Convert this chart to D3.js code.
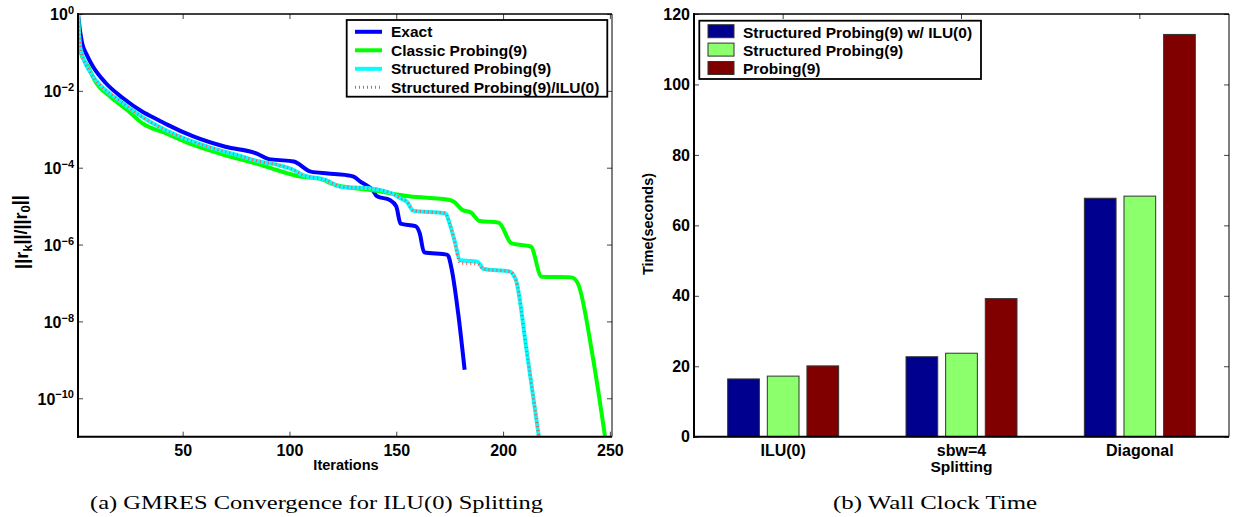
<!DOCTYPE html>
<html>
<head>
<meta charset="utf-8">
<script src="https://cdn.jsdelivr.net/npm/d3@7"></script>
<style>
  body { margin: 0; background: #fff; }
  svg { display: block; font-family: "Liberation Sans", Arial, sans-serif; font-weight: bold; }
</style>
</head>
<body>
<svg id="chart"></svg>
<script>
// (a) residual history ||r_k||/||r_0|| vs iteration
const exactIter = [1, 2, 3, 5, 8, 14, 22, 31, 39, 43, 55, 70, 85, 90, 94, 102, 110, 118, 126, 130, 133, 136, 139, 141, 147, 150, 152, 159, 161, 163, 174, 176, 179, 182];
const exactRes = [1, 3.5e-1, 1.7e-1, 8.9e-2, 4.3e-2, 1.6e-2, 6.5e-3, 2.9e-3, 1.7e-3, 1.3e-3, 6.5e-4, 3.5e-4, 2.3e-4, 1.7e-4, 1.6e-4, 1.45e-4, 7.9e-5, 7.1e-5, 6.5e-5, 5.9e-5, 4.4e-5, 3.5e-5, 2.6e-5, 1.8e-5, 1.45e-5, 9.8e-6, 3.5e-6, 3.0e-6, 1.95e-6, 6.3e-7, 5.4e-7, 2.2e-7, 1.6e-8, 5.5e-10];

const classicIter = [1, 2, 6, 9, 16, 24, 31, 42, 55, 70, 84, 94, 105, 114, 122, 139, 156, 175, 177, 181, 185, 189, 198, 204, 213, 218, 232, 235, 242, 248];
const classicRes = [1, 1.1e-1, 4.0e-2, 1.8e-2, 7.1e-3, 3.2e-3, 1.45e-3, 7.9e-4, 3.9e-4, 2.1e-4, 1.3e-4, 8.7e-5, 5.9e-5, 5.2e-5, 3.5e-5, 2.6e-5, 1.8e-5, 1.45e-5, 1.3e-5, 7.9e-6, 6.8e-6, 4.1e-6, 3.7e-6, 1.07e-6, 8.9e-7, 1.45e-7, 1.4e-7, 9.8e-8, 1.2e-9, 8e-12];

const structIter = [1, 2, 7, 12, 20, 31, 47, 62, 78, 86, 94, 102, 106, 117, 124, 138, 149, 152, 155, 158, 173, 175, 177, 180, 188, 191, 203, 206, 211, 217];
const structRes = [1, 1.4e-1, 2.9e-2, 1.3e-2, 5.8e-3, 2.1e-3, 7.1e-4, 3.5e-4, 1.95e-4, 1.45e-4, 1.2e-4, 8.7e-5, 6.5e-5, 4.8e-5, 3.2e-5, 2.9e-5, 2.0e-5, 1.6e-5, 1.3e-5, 7.6e-6, 6.5e-6, 3.5e-6, 1.45e-6, 3.9e-7, 3.6e-7, 2.3e-7, 2.0e-7, 1.2e-7, 1.8e-9, 8e-12];

const structIluIter = [1, 2, 7, 12, 20, 31, 47, 62, 78, 86, 94, 102, 106, 117, 124, 138, 149, 152, 155, 158, 173, 175, 177, 180, 188, 191, 203, 206, 211, 217];
const structIluRes = [1, 1.4e-1, 2.9e-2, 1.3e-2, 5.8e-3, 2.1e-3, 7.1e-4, 3.5e-4, 1.95e-4, 1.45e-4, 1.2e-4, 8.7e-5, 6.5e-5, 4.8e-5, 3.2e-5, 2.9e-5, 2.0e-5, 1.6e-5, 1.3e-5, 7.6e-6, 6.5e-6, 3.5e-6, 1.45e-6, 3.3e-7, 3.1e-7, 2.3e-7, 2.0e-7, 1.2e-7, 1.8e-9, 8e-12];

const lineNames = ['Exact', 'Classic Probing(9)', 'Structured Probing(9)', 'Structured Probing(9)/ILU(0)'];
const iterTicks = [50, 100, 150, 200, 250];
const resTicks = [1, 1e-2, 1e-4, 1e-6, 1e-8, 1e-10];

// (b) wall clock time per splitting
const splittings = ['ILU(0)', 'sbw=4', 'Diagonal'];
const barNames = ['Structured Probing(9) w/ ILU(0)', 'Structured Probing(9)', 'Probing(9)'];
const timeStructIlu = [16.4, 22.7, 67.7];
const timeStruct = [17.2, 23.7, 68.3];
const timeProbing = [20.1, 39.2, 114.2];
const timeTicks = [0, 20, 40, 60, 80, 100, 120];

const W = 1233, H = 517;
const fs = '15.5px';
const svg = d3.select('#chart').attr('width', W).attr('height', H);

// ---------- left panel ----------
const plotTop = 14, plotBottom = 436.7;
const x = d3.scaleLinear().domain([1, 251]).range([78, 612]);
const y = d3.scaleLog().domain([1e-11, 1]).range([plotBottom, plotTop]);

const gL = svg.append('g');

gL.append('g')
  .attr('transform', `translate(0,${plotBottom})`)
  .call(d3.axisBottom(x).tickValues(iterTicks).tickSize(-5).tickPadding(8))
  .call(g => g.select('.domain').remove());
gL.append('g')
  .attr('transform', `translate(0,${plotTop})`)
  .call(d3.axisTop(x).tickValues(iterTicks).tickSize(-5).tickFormat(''))
  .call(g => g.select('.domain').remove());
const gy = gL.append('g')
  .attr('transform', `translate(78,0)`)
  .call(d3.axisLeft(y).tickValues(resTicks).tickSize(-5).tickPadding(4).tickFormat(''))
  .call(g => g.select('.domain').remove());
gL.append('g')
  .attr('transform', `translate(612,0)`)
  .call(d3.axisRight(y).tickValues(resTicks).tickSize(-5).tickFormat(''))
  .call(g => g.select('.domain').remove());

gy.selectAll('.tick text').each(function(d) {
  const e = Math.round(Math.log10(d));
  const t = d3.select(this).attr('dy', '0.36em');
  t.append('tspan').text('10');
  t.append('tspan').attr('dy', '-0.55em').attr('font-size', '11px')
    .text(e < 0 ? '\u2212' + (-e) : String(e));
});

gL.selectAll('.tick text').attr('font-size', '16px').attr('font-family', null).attr('fill', '#000');
gL.selectAll('.tick line').attr('stroke', '#444');

svg.append('clipPath').attr('id', 'clipL')
  .append('rect').attr('x', 78).attr('y', plotTop).attr('width', 534).attr('height', plotBottom - plotTop);

const line = d3.line()
  .x(d => x(d[0]))
  .y(d => y(d[1]))
  .curve(d3.curveMonotoneX);

const curves = [
  {data: d3.zip(exactIter, exactRes), color: '#0000ff'},
  {data: d3.zip(classicIter, classicRes), color: '#00ff00'},
  {data: d3.zip(structIter, structRes), color: '#00ffff'},
  {data: d3.zip(structIluIter, structIluRes), color: '#ff5050', dash: '1,3', width: 3}
];

gL.append('g').attr('clip-path', 'url(#clipL)')
  .selectAll('path')
  .data(curves)
  .join('path')
  .attr('d', d => line(d.data))
  .attr('fill', 'none')
  .attr('stroke', d => d.color)
  .attr('stroke-width', d => d.width || 4)
  .attr('stroke-dasharray', d => d.dash || null);

// frame
gL.append('line').attr('x1', 78).attr('x2', 612).attr('y1', plotTop).attr('y2', plotTop).attr('stroke', '#000').attr('stroke-width', 1.5);
gL.append('line').attr('x1', 612).attr('x2', 612).attr('y1', plotTop).attr('y2', plotBottom).attr('stroke', '#000').attr('stroke-width', 1);
gL.append('line').attr('x1', 78).attr('x2', 78).attr('y1', plotTop - 1).attr('y2', plotBottom + 1).attr('stroke', '#000').attr('stroke-width', 2);
gL.append('line').attr('x1', 77).attr('x2', 612).attr('y1', plotBottom).attr('y2', plotBottom).attr('stroke', '#000').attr('stroke-width', 2);

// legend
const legL = gL.append('g');
legL.append('rect').attr('x', 346.7).attr('y', 20).attr('width', 260.6).attr('height', 76.7)
  .attr('fill', '#fff').attr('stroke', '#000').attr('stroke-width', 1.8);
curves.forEach((c, i) => {
  const ly = 31.8 + i * 18.5;
  legL.append('line').attr('x1', 355).attr('x2', 382).attr('y1', ly).attr('y2', ly)
    .attr('stroke', c.color).attr('stroke-width', c.width || 4)
    .attr('stroke-dasharray', c.dash || null);
  legL.append('text').attr('x', 391).attr('y', ly + 5.6).attr('font-size', fs).text(lineNames[i]);
});

gL.append('text').attr('x', 346).attr('y', 470).attr('text-anchor', 'middle').attr('font-size', '14.5px').text('Iterations');

const yl = gL.append('text')
  .attr('transform', 'translate(28,232) rotate(-90)')
  .attr('text-anchor', 'middle').attr('font-size', '18px');
yl.append('tspan').text('||r');
yl.append('tspan').attr('dy', '0.3em').attr('font-size', '13px').text('k');
yl.append('tspan').attr('dy', '-0.3em').text('||/||r');
yl.append('tspan').attr('dy', '0.3em').attr('font-size', '13px').text('0');
yl.append('tspan').attr('dy', '-0.3em').text('||');

// ---------- right panel ----------
const x0 = d3.scaleBand().domain(splittings).range([694, 1229]).padding(0);
const bw = x0.bandwidth();
const x1 = d3.scaleBand().domain(barNames)
  .range([bw / 2 - bw / 3, bw / 2 + bw / 3]).paddingInner(0.2).paddingOuter(0.1);
const yT = d3.scaleLinear().domain([0, 120]).range([plotBottom, plotTop]);
const barColors = ['#00008f', '#8cff6c', '#800000'];
const barValues = [timeStructIlu, timeStruct, timeProbing];

const gR = svg.append('g');
gR.append('g')
  .attr('transform', `translate(0,${plotBottom})`)
  .call(d3.axisBottom(x0).tickSize(-5).tickPadding(8))
  .call(g => g.select('.domain').remove());
gR.append('g')
  .attr('transform', `translate(0,${plotTop})`)
  .call(d3.axisTop(x0).tickSize(-5).tickFormat(''))
  .call(g => g.select('.domain').remove());
gR.append('g')
  .attr('transform', 'translate(694,0)')
  .call(d3.axisLeft(yT).tickValues(timeTicks).tickSize(-5).tickPadding(4))
  .call(g => g.select('.domain').remove());
gR.append('g')
  .attr('transform', 'translate(1229,0)')
  .call(d3.axisRight(yT).tickValues(timeTicks).tickSize(-5).tickFormat(''))
  .call(g => g.select('.domain').remove());
gR.selectAll('.tick text').attr('font-size', '16px').attr('font-family', null).attr('fill', '#000');
gR.selectAll('.tick line').attr('stroke', '#444');

const groups = gR.append('g')
  .selectAll('g')
  .data(splittings)
  .join('g')
  .attr('transform', d => `translate(${x0(d)},0)`);

groups.selectAll('rect')
  .data((s, i) => barNames.map((n, j) => ({name: n, value: barValues[j][i], color: barColors[j]})))
  .join('rect')
  .attr('x', d => x1(d.name))
  .attr('width', x1.bandwidth())
  .attr('y', d => yT(d.value))
  .attr('height', d => plotBottom - yT(d.value))
  .attr('fill', d => d.color)
  .attr('stroke', '#333')
  .attr('stroke-width', 1);

gR.append('line').attr('x1', 694).attr('x2', 1229).attr('y1', plotTop).attr('y2', plotTop).attr('stroke', '#000').attr('stroke-width', 1.5);
gR.append('line').attr('x1', 1229).attr('x2', 1229).attr('y1', plotTop).attr('y2', plotBottom).attr('stroke', '#000').attr('stroke-width', 1);
gR.append('line').attr('x1', 694).attr('x2', 694).attr('y1', plotTop - 1).attr('y2', plotBottom + 1).attr('stroke', '#000').attr('stroke-width', 2);
gR.append('line').attr('x1', 693).attr('x2', 1229).attr('y1', plotBottom).attr('y2', plotBottom).attr('stroke', '#000').attr('stroke-width', 2);

const legR = gR.append('g');
legR.append('rect').attr('x', 699.3).attr('y', 20.7).attr('width', 281.7).attr('height', 58.3)
  .attr('fill', '#fff').attr('stroke', '#000').attr('stroke-width', 1.8);
barNames.forEach((n, i) => {
  const ly = 24.7 + i * 18.4;
  legR.append('rect').attr('x', 708).attr('y', ly).attr('width', 26).attr('height', 13)
    .attr('fill', barColors[i]).attr('stroke', '#333').attr('stroke-width', 1);
  legR.append('text').attr('x', 743).attr('y', ly + 12.8).attr('font-size', fs).text(n);
});

gR.append('text').attr('x', x0('sbw=4') + bw / 2).attr('y', 471.5).attr('text-anchor', 'middle').attr('font-size', fs).text('Splitting');
gR.append('text').attr('transform', 'translate(653,224) rotate(-90)').attr('text-anchor', 'middle')
  .attr('font-size', '14.5px').text('Time(seconds)');

// captions
svg.append('text').attr('x', 90).attr('y', 509)
  .attr('font-family', '"Liberation Serif", serif').attr('font-weight', 'normal').attr('font-size', '19px')
  .attr('textLength', 453).attr('lengthAdjust', 'spacingAndGlyphs')
  .text('(a)  GMRES Convergence for ILU(0) Splitting');
svg.append('text').attr('x', 833).attr('y', 509)
  .attr('font-family', '"Liberation Serif", serif').attr('font-weight', 'normal').attr('font-size', '19px')
  .attr('textLength', 204).attr('lengthAdjust', 'spacingAndGlyphs')
  .text('(b)  Wall Clock Time');
</script>
</body>
</html>
